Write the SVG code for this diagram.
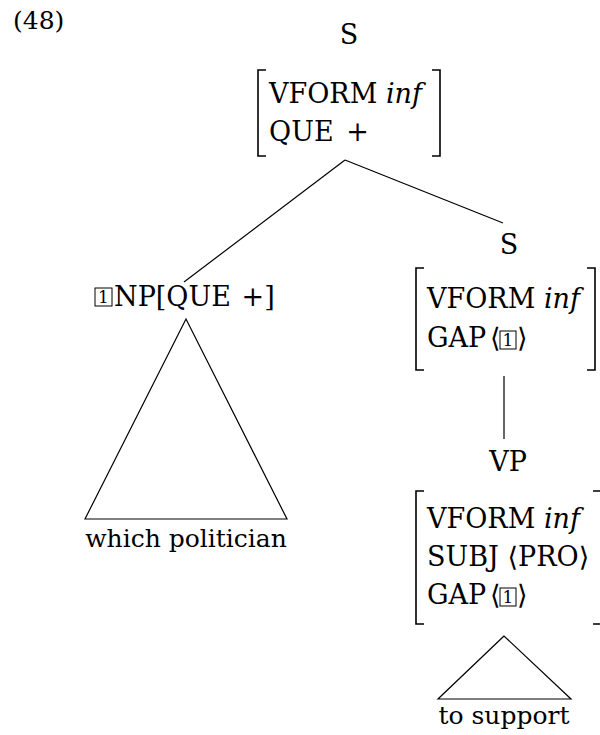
<svg xmlns="http://www.w3.org/2000/svg" width="600" height="735" viewBox="0 0 600 735" font-family="DejaVu Serif, serif" font-size="27">
  <style>
    .it { font-style: italic; }
    .idx { font-size: 17px; text-anchor: middle; }
    .mid { text-anchor: middle; }
    .leaf { font-size: 25px; text-anchor: middle; }
    .br { fill: none; stroke: #000; stroke-width: 1.6; }
    .box { fill: none; stroke: #000; stroke-width: 1; }
    .edge { fill: none; stroke: #000; stroke-width: 1.2; }
  </style>

  <text x="13" y="29" font-size="25">(48)</text>

  <!-- root S with its feature matrix -->
  <g id="root-s">
    <text class="mid" x="349" y="44">S</text>
    <path class="br" d="M266,70 H258 V156 H266 M432,70 H440 V156 H432"/>
    <text x="269" y="103">VFORM <tspan class="it">inf</tspan></text>
    <text x="269" y="141">QUE <tspan dx="4">+</tspan></text>
  </g>

  <!-- fronted NP and its roof -->
  <g id="np">
    <rect class="box" x="95" y="288" width="17" height="18"/>
    <text class="idx" x="103.5" y="303">1</text>
    <text x="114" y="306">NP[QUE <tspan dx="2">+</tspan>]</text>
    <path class="edge" d="M186,319 L85,519 H287 Z"/>
    <text class="leaf" x="186" y="547">which politician</text>
  </g>

  <!-- lower S with gap -->
  <g id="s-gap">
    <text class="mid" x="509" y="254">S</text>
    <path class="br" d="M424,268 H416 V370 H424 M587,268 H595 V370 H587"/>
    <text x="427" y="308">VFORM <tspan class="it">inf</tspan></text>
    <text x="427" y="347">GAP</text>
    <text x="490" y="347">⟨</text>
    <rect class="box" x="500" y="331" width="16" height="18"/>
    <text class="idx" x="508" y="346">1</text>
    <text x="517" y="347">⟩</text>
  </g>

  <!-- VP with its matrix and roof -->
  <g id="vp">
    <text class="mid" x="508" y="471">VP</text>
    <path class="br" d="M424,491 H416 V624 H424 M593,491 H601 V624 H593"/>
    <text x="427" y="528">VFORM <tspan class="it">inf</tspan></text>
    <text x="427" y="566">SUBJ ⟨PRO⟩</text>
    <text x="427" y="604">GAP</text>
    <text x="490" y="604">⟨</text>
    <rect class="box" x="500" y="588" width="16" height="18"/>
    <text class="idx" x="508" y="603">1</text>
    <text x="517" y="604">⟩</text>
    <path class="edge" d="M504,636 L438,699 H571 Z"/>
    <text class="leaf" x="504" y="724">to support</text>
  </g>

  <!-- branches -->
  <g id="connectors">
    <path class="edge" d="M345,160 L184,282"/>
    <path class="edge" d="M345,160 L503,223"/>
    <path class="edge" d="M504,376 V439"/>
  </g>
</svg>
